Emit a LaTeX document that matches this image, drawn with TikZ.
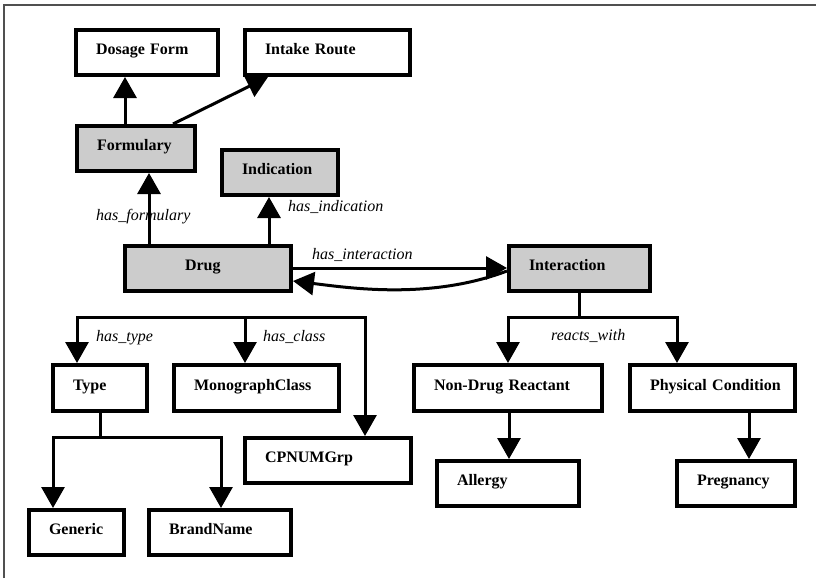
\documentclass[tikz,border=0pt]{standalone}
\usepackage{fontspec}
\setmainfont{Liberation Serif}
\usetikzlibrary{arrows.meta}
\definecolor{boxgray}{RGB}{204,204,204}
\definecolor{framegray}{RGB}{80,80,80}
\newcommand{\mkbox}[8]{%
  \pgfmathsetmacro\bw{#4-#2-4}%
  \pgfmathsetmacro\bh{#5-#3-4}%
  \pgfmathsetmacro\bcx{(#2+#4)/2}%
  \pgfmathsetmacro\bcy{(#3+#5)/2}%
  \node[box,fill=#6,text width=\bw pt,minimum height=\bh pt] (#1) at (\bcx,\bcy) {\hspace*{#7pt}\mbox{#8}};}
\begin{document}
\begin{tikzpicture}[x=1pt,y=-1pt,
  box/.style={draw,line width=4pt,rectangle,inner sep=0pt,align=left,
    font=\bfseries\fontsize{16}{19}\selectfont,text height=9.5pt,text depth=5.5pt},
  lbl/.style={font=\itshape\fontsize{16}{19}\selectfont,inner sep=0pt,anchor=base west},
  arr/.style={line width=3pt,-{Triangle[length=21pt,width=23pt]}}]
\useasboundingbox (0,0) rectangle (816,578);
\draw[line width=2pt,framegray] (4,578) -- (4,5) -- (816,5);
% boxes
\mkbox{dosage}{74}{28}{220}{77}{white}{20}{Dosage Form}
\mkbox{intake}{243}{28}{412}{77}{white}{20}{Intake Route}
\mkbox{formulary}{75}{124}{197}{173}{boxgray}{20}{Formulary}
\mkbox{indication}{220}{148}{340}{197}{boxgray}{20}{Indication}
\mkbox{drug}{123}{244}{293}{293}{boxgray}{60}{Drug}
\mkbox{interaction}{507}{244}{652}{293}{boxgray}{20}{Interaction}
\mkbox{type}{51}{363}{149}{413}{white}{20}{Type}
\mkbox{mono}{172}{363}{341}{413}{white}{20}{MonographClass}
\mkbox{cpnum}{243}{436}{413}{485}{white}{20}{CPNUMGrp}
\mkbox{generic}{27}{508}{126}{557}{white}{20}{Generic}
\mkbox{brand}{147}{508}{293}{557}{white}{20}{BrandName}
\mkbox{ndr}{412}{363}{604}{413}{white}{20}{Non-Drug Reactant}
\mkbox{phys}{628}{363}{797}{413}{white}{20}{Physical Condition}
\mkbox{allergy}{435}{459}{581}{508}{white}{20}{Allergy}
\mkbox{preg}{675}{459}{797}{508}{white}{20}{Pregnancy}
% labels
\node[lbl] (l-form) at (96,220) {has\_formulary};
\node[lbl] (l-ind) at (288,211) {has\_indication};
\node[lbl] (l-int) at (312,259) {has\_interaction};
\node[lbl] (l-type) at (96,341) {has\_type};
\node[lbl] (l-class) at (263,341) {has\_class};
\node[lbl] (l-react) at (551,340) {reacts\_with};
% connectors
\draw[arr] ([xshift=50]formulary.north west) -- ([xshift=51]dosage.south west);
\draw[arr] ([xshift=98]formulary.north west) -- ([xshift=25]intake.south west);
\draw[arr] ([xshift=26]drug.north west) -- ([xshift=74]formulary.south west);
\draw[arr] ([xshift=146]drug.north west) -- ([xshift=49]indication.south west);
\draw[arr] ([yshift=-24]drug.north east) -- ([yshift=-24]interaction.north west);
\draw[arr] ([yshift=-27]interaction.north west) .. controls (430,300) and (350,288) .. ([yshift=-37]drug.north east);
\coordinate (dbus) at (245,317);
\draw[arr] (dbus) -| ([xshift=26]type.north west);
\draw[arr] (dbus) -- ([xshift=73]mono.north west);
\draw[arr] (dbus) -| ([xshift=122]cpnum.north west);
\draw[arr] (type.south) -- ++(0,24) -| ([xshift=26]generic.north west);
\draw[arr] (type.south) -- ++(0,24) -| ([xshift=74]brand.north west);
\draw[arr] (interaction.south) -- ++(0,24) -| ([xshift=96]ndr.north west);
\draw[arr] (interaction.south) -- ++(0,24) -| ([xshift=49]phys.north west);
\draw[arr] ([xshift=97]ndr.south west) -- ([xshift=74]allergy.north west);
\draw[arr] ([xshift=121]phys.south west) -- ([xshift=74]preg.north west);
\end{tikzpicture}
\end{document}
